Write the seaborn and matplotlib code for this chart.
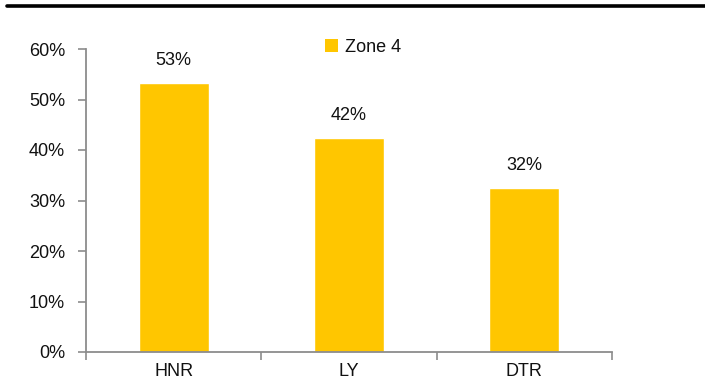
import numpy as np
import pandas as pd
import matplotlib.pyplot as plt
import seaborn as sns
from matplotlib.lines import Line2D
from matplotlib.patches import Patch

# Dati del grafico
categories = ["HNR", "LY", "DTR"]
values = [53.3, 42.3, 32.4]
labels = ["53%", "42%", "32%"]
series_name = "Zone 4"

df = pd.DataFrame({"cat": categories, "val": values})

sns.set_style("white")
plt.rcParams['font.family'] = ['Liberation Sans', 'DejaVu Sans']
plt.rcParams['text.color'] = '#111111'
plt.rcParams['xtick.color'] = '#8c8c8c'
plt.rcParams['ytick.color'] = '#8c8c8c'
plt.rcParams['xtick.labelcolor'] = '#111111'
plt.rcParams['ytick.labelcolor'] = '#111111'

fig = plt.figure(figsize=(7.05, 3.81), dpi=100)
ax = fig.add_axes([86 / 705, 29 / 381, (612 - 86) / 705, (352 - 49) / 381])

gold = "#FFC600"
sns.barplot(data=df, x="cat", y="val", color=gold, width=0.4, saturation=1, ax=ax)

ax.set_xlim(-0.5, 2.5)
ax.set_ylim(0, 60)
ax.set_yticks(np.arange(0, 61, 10))
ax.set_yticklabels([f"{v}%" for v in range(0, 61, 10)], fontsize=13)
ax.set_xlabel("")
ax.set_ylabel("")

# tick sulle separazioni delle categorie
ax.set_xticks([-0.5, 0.5, 1.5, 2.5], minor=True)
ax.tick_params(axis="x", which="major", bottom=False, length=0, pad=8, labelsize=13)
ax.tick_params(axis="x", which="minor", bottom=True, length=6, width=1.2, direction="out")
ax.tick_params(axis="y", left=True, length=6, width=1.2, direction="out", pad=9)

for side in ["top", "right"]:
    ax.spines[side].set_visible(False)
for side in ["left", "bottom"]:
    ax.spines[side].set_color("#8c8c8c")
    ax.spines[side].set_linewidth(1.3)

# etichette sopra le barre
for i, (v, lab) in enumerate(zip(values, labels)):
    ax.annotate(lab, (i, v), xytext=(0, 10), textcoords="offset points",
                ha="center", va="bottom", fontsize=13)

# legenda
handle = Patch(facecolor=gold, edgecolor="none")
ax.legend([handle], [series_name], loc="upper left", bbox_to_anchor=(0.44, 1.057),
          frameon=False, fontsize=13, handlelength=0.75, handleheight=0.75,
          handletextpad=0.35, borderaxespad=0)

# linea nera in alto
fig.add_artist(Line2D([0.01, 1.0], [0.985, 0.985], color="black", linewidth=2.6,
                      transform=fig.transFigure))

fig.savefig("out.png", dpi=100)
